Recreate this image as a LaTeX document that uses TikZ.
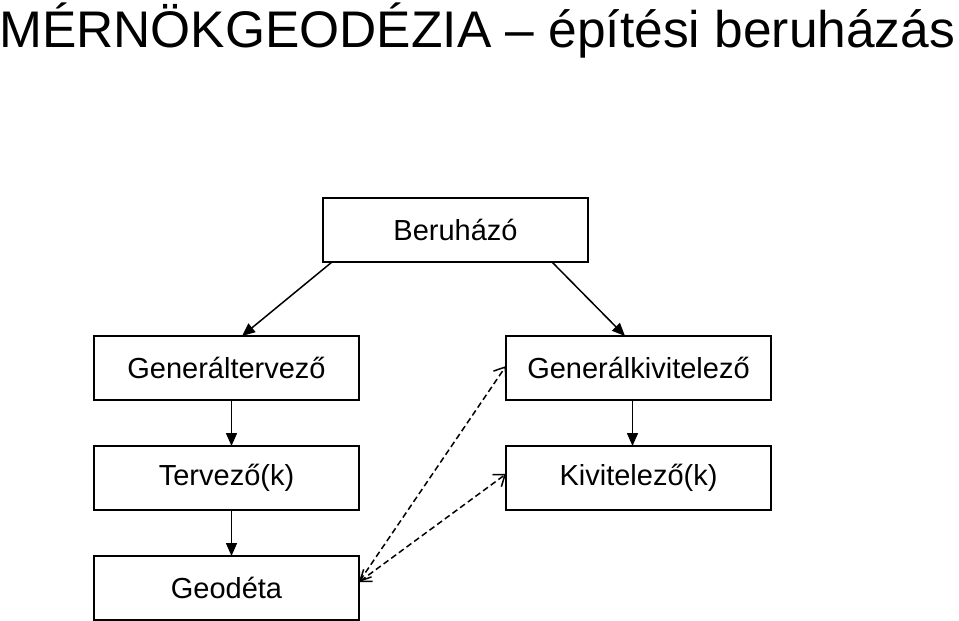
\documentclass[tikz,border=0pt]{standalone}
\usepackage{fontspec}
\setmainfont{Liberation Sans}
\usepackage{tikz}
\usetikzlibrary{positioning,arrows.meta}

\begin{document}
\begin{tikzpicture}[
  x=1pt, y=-1pt,
  node distance=0cm,
  box/.style={draw, line width=1.6pt, minimum width=265pt, minimum height=64pt,
              inner sep=0pt, outer sep=0pt, font=\fontsize{29}{32}\selectfont, align=center},
  arr/.style={-{Triangle[length=13pt,width=11pt]}, line width=1.5pt},
  link/.style={{Straight Barb[length=10pt,width=15pt]}-{Straight Barb[length=10pt,width=15pt]},
               dash pattern=on 6pt off 3.5pt, line width=1.5pt}
]
  \useasboundingbox (0,0) rectangle (959,621);
  \node[anchor=base west, inner sep=0pt, font=\fontsize{51.5}{56}\selectfont] (title) at (-1,47.5)
    {MÉRNÖKGEODÉZIA – építési beruházás};

  \node[box] (ber) at (455.5,230) {Beruházó};
  \node[box] (gt) at (226.5,368) {Generáltervező};
  \node[box, right=147pt of gt] (gk) {Generálkivitelező};
  \node[box, below=46pt of gt] (terv) {Tervező(k)};
  \node[box, below=46pt of gk] (kiv) {Kivitelező(k)};
  \node[box, below=46pt of terv] (geo) {Geodéta};

  \draw[arr] ([xshift=9pt]ber.south west) -- ([xshift=148pt]gt.north west);
  \draw[arr] ([xshift=-36pt]ber.south east) -- ([xshift=119pt]gk.north west);
  \draw[arr] ([xshift=5pt]gt.south) -- ([xshift=5pt]terv.north);
  \draw[arr] ([xshift=5pt]terv.south) -- ([xshift=5pt]geo.north);
  \draw[arr] ([xshift=-6pt]gk.south) -- ([xshift=-6pt]kiv.north);
  \draw[link] ([yshift=6pt]geo.east) -- ([yshift=2pt]gk.west);
  \draw[link] ([yshift=6pt]geo.east) -- ([yshift=4pt]kiv.west);
\end{tikzpicture}
\end{document}
